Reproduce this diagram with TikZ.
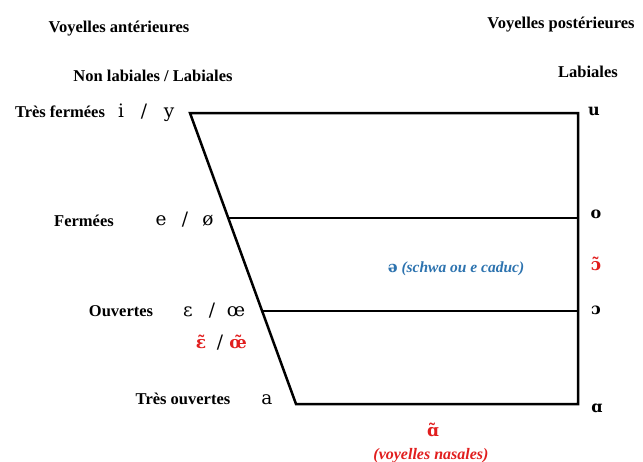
\documentclass[tikz,border=0pt]{standalone}
\usepackage{fontspec}
\setmainfont{Liberation Serif}
\newfontfamily\ipaserif{DejaVu Serif}
\definecolor{nasred}{RGB}{225,30,30}
\definecolor{schwablue}{RGB}{45,115,175}
\begin{document}
\begin{tikzpicture}[x=1pt,y=-1pt,
  lbl/.style={font=\fontsize{16.5}{18}\selectfont\bfseries, inner sep=0pt, anchor=base},
  vow/.style={font=\ipaserif\fontsize{18.5}{20}\selectfont, inner sep=0pt, anchor=base},
  bvow/.style={font=\ipaserif\fontsize{16}{18}\selectfont\bfseries, inner sep=0pt, anchor=base},
  nas/.style={font=\ipaserif\fontsize{17}{19}\selectfont\bfseries, text=nasred, inner sep=0pt, anchor=base},
  edge/.style={line width=2.5pt}]
\useasboundingbox (0,0) rectangle (643,461);
% frame coordinates
\coordinate (tl) at (190,113);
\coordinate (tr) at (578,113);
\coordinate (bl) at (296,404);
\coordinate (br) at (578,404);
\coordinate (ml1) at (228.3,218);
\coordinate (mr1) at (578,218);
\coordinate (ml2) at (262.2,311);
\coordinate (mr2) at (578,311);
\draw[edge] (tl) -- (tr) -- (br) -- (bl) -- cycle;
\draw[edge] (ml1) -- (mr1);
\draw[edge] (ml2) -- (mr2);
% headings
\node[lbl] (hant) at (119,32) {Voyelles antérieures};
\node[lbl] (hpost) at (561,28) {Voyelles postérieures};
\node[lbl] (hnl) at (153,81) {Non labiales / Labiales};
\node[lbl] (hl) at (588,77) {Labiales};
% left labels
\node[lbl] (l1) at (60,117) {Très fermées};
\node[lbl] (l2) at (84,226) {Fermées};
\node[lbl] (l3) at (121,316) {Ouvertes};
\node[lbl] (l4) at (183,404) {Très ouvertes};
% front vowels
\node[vow] (vi) at (121,117) {i};
\node[vow] (s1) at (144,117) {/};
\node[vow] (vy) at (169,117) {y};
\node[vow] (ve) at (161,225) {e};
\node[vow] (s2) at (185,225) {/};
\node[vow] (voe) at (208,225) {ø};
\node[vow] (veps) at (188,316) {ɛ};
\node[vow] (s3) at (212,316) {/};
\node[vow] (voe2) at (236,316) {œ};
\node[nas] (neps) at (201,348) {ɛ̃};
\node[vow,text=black] (s4) at (220,348) {/};
\node[nas] (noe) at (238,348) {œ̃};
\node[vow] (va) at (267,404) {a};
% back vowels
\node[bvow] (vu) at (594,115) {u};
\node[bvow] (vo) at (596,218) {o};
\node[nas] (no) at (596,270) {ɔ̃};
\node[bvow] (vopen) at (596,314) {ɔ};
\node[bvow] (valpha) at (597,412) {ɑ};
% schwa
\node[font=\fontsize{15.5}{17}\selectfont\itshape\bfseries, text=schwablue, inner sep=0pt, anchor=base] (schwa) at (456,272) {{\upshape\ipaserif ə} (schwa ou e caduc)};
% nasal a
\node[nas] (na) at (433,436) {ɑ̃};
\node[font=\fontsize{16}{18}\selectfont\itshape\bfseries, text=nasred, inner sep=0pt, anchor=base] (nasal) at (431,459) {(voyelles nasales)};
\end{tikzpicture}
\end{document}
